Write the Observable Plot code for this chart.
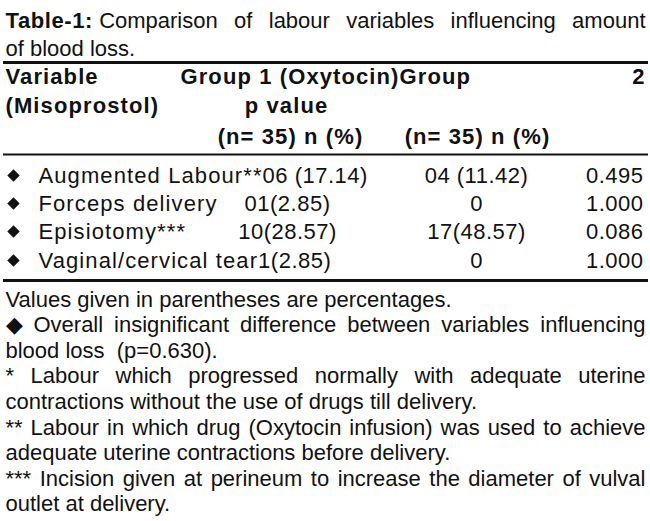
<!DOCTYPE html>
<html>
<head>
<meta charset="utf-8">
<script src="https://cdn.jsdelivr.net/npm/d3@7"></script>
<script src="https://cdn.jsdelivr.net/npm/@observablehq/plot@0.6"></script>
<style>
  html, body { margin: 0; padding: 0; background: #fff; }
  #chart svg { display: block; }
  #chart text { white-space: pre; }
</style>
</head>
<body>
<div id="chart"></div>
<script>
// ---------- data ----------
const titleLabel = "Table-1:";
const titleLines = ["Comparison of labour variables influencing amount", "of blood loss."];
const headerRow1 = ["Variable", "Group 1 (Oxytocin)Group", "2"];
const headerRow2 = ["(Misoprostol)", "p value"];
const headerRow3 = ["(n= 35) n (%)", "(n= 35) n (%)"];
const variables = ["Augmented Labour**", "Forceps delivery", "Episiotomy***", "Vaginal/cervical tear"];
const group1 = ["06 (17.14)", "01(2.85)", "10(28.57)", "1(2.85)"];
const group2 = ["04 (11.42)", "0", "17(48.57)", "0"];
const pValues = ["0.495", "1.000", "0.086", "1.000"];
const footnotes = [
  "Values given in parentheses are percentages.",
  "\u25C6 Overall insignificant difference between variables influencing",
  "blood loss  (p=0.630).",
  "* Labour which progressed normally with adequate uterine",
  "contractions without the use of drugs till delivery.",
  "** Labour in which drug (Oxytocin infusion) was used to achieve",
  "adequate uterine contractions before delivery.",
  "*** Incision given at perineum to increase the diameter of vulval",
  "outlet at delivery."
];
const justifiedFootnotes = [1, 3, 5, 7];

// ---------- layout ----------
const W = 650, H = 521;
const FONT = "'Liberation Sans', Arial, Helvetica, sans-serif";
const L = {
  left: 5, right: 645,
  titleSize: 22, headSize: 22, bodySize: 22, noteSize: 22,
  ls: {title: 0.6, head: 1.1, label: 1.1, value: 0.5},
  titleBase: [27, 55],
  rules: [{y: 62, w: 3}, {y: 154, w: 2}, {y: 280, w: 3}],
  headBase: [83, 112, 143],
  rowBase: [182, 210, 238, 267],
  noteBase0: 306, noteStep: 25.6,
  groupX: 180, pValueHeadX: 286, n1X: 290, n2X: 477,
  diamondX: 13, labelX: 38, g1X: 287, g2X: 476, pX: 643
};

// measure text widths with a hidden svg
const mSvg = d3.select("body").append("svg").attr("width", 0).attr("height", 0)
  .style("position", "absolute").style("visibility", "hidden");
function measure(str, size, weight = "normal", ls = 0) {
  const t = mSvg.append("text").attr("font-family", FONT).attr("font-size", size)
    .attr("font-weight", weight).style("white-space", "pre").style("letter-spacing", ls + "px").text(str);
  const w = t.node().getComputedTextLength();
  t.remove();
  return w;
}
const yTop = (base, size) => base - 0.71 * size; // y for lineAnchor "top"

// build mark tables
const titleBoldW = measure(titleLabel, L.titleSize, "bold", L.ls.title) + measure("a a", L.titleSize) - measure("aa", L.titleSize);
const titleRows = titleLines.map((t, i) => ({
  text: t, x: i === 0 ? L.left + titleBoldW : L.left, y: yTop(L.titleBase[i], L.titleSize)
}));

const headerCells = [
  {text: headerRow1[0], x: L.left, y: yTop(L.headBase[0], L.headSize), anchor: "start"},
  {text: headerRow1[1], x: L.groupX, y: yTop(L.headBase[0], L.headSize), anchor: "start"},
  {text: headerRow1[2], x: L.right, y: yTop(L.headBase[0], L.headSize), anchor: "end"},
  {text: headerRow2[0], x: L.left, y: yTop(L.headBase[1], L.headSize), anchor: "start"},
  {text: headerRow2[1], x: L.pValueHeadX, y: yTop(L.headBase[1], L.headSize), anchor: "middle"},
  {text: headerRow3[0], x: L.n1X, y: yTop(L.headBase[2], L.headSize), anchor: "middle"},
  {text: headerRow3[1], x: L.n2X, y: yTop(L.headBase[2], L.headSize), anchor: "middle"}
];

const rows = variables.map((v, i) => {
  const lw = measure(v, L.bodySize, "normal", L.ls.label);
  const gw = measure(group1[i], L.bodySize, "normal", L.ls.value);
  return {
    variable: v, g1: group1[i], g2: group2[i], p: pValues[i],
    base: L.rowBase[i],
    g1x: Math.max(L.g1X - gw / 2, L.labelX + lw)
  };
});

const notes = footnotes.map((t, i) => ({text: t, y: yTop(L.noteBase0 + i * L.noteStep, L.noteSize)}));

const txt = {fontFamily: FONT, fill: "#111", lineAnchor: "top"};

const chart = Plot.plot({
  width: W, height: H, margin: 0,
  style: {background: "#fff", fontFamily: FONT},
  x: {domain: [0, W], range: [0, W], axis: null},
  y: {domain: [0, H], range: [0, H], axis: null},
  marks: [
    // title
    Plot.text([titleLabel], {x: () => L.left, y: () => yTop(L.titleBase[0], L.titleSize), text: d => d,
      textAnchor: "start", fontWeight: "bold", fontSize: L.titleSize, ...txt}),
    Plot.text(titleRows, {x: "x", y: "y", text: "text", textAnchor: "start", fontSize: L.titleSize, ...txt}),
    // rules
    ...L.rules.map(r => Plot.ruleY([r.y], {x1: () => 3, x2: () => 648, y: d => d, stroke: "#111", strokeWidth: r.w})),
    // header
    Plot.text(headerCells, {x: "x", y: "y", text: "text", textAnchor: "start", fontWeight: "bold",
      fontSize: L.headSize, ...txt}),
    // rows
    Plot.dot(rows, {x: () => L.diamondX, y: d => d.base - 7, symbol: "diamond2", r: 5.6, fill: "#111", stroke: "none"}),
    Plot.text(rows, {x: () => L.labelX, y: d => yTop(d.base, L.bodySize), text: "variable", textAnchor: "start", fontSize: L.bodySize, ...txt}),
    Plot.text(rows, {x: "g1x", y: d => yTop(d.base, L.bodySize), text: "g1", textAnchor: "start", fontSize: L.bodySize, ...txt}),
    Plot.text(rows, {x: () => L.g2X, y: d => yTop(d.base, L.bodySize), text: "g2", textAnchor: "middle", fontSize: L.bodySize, ...txt}),
    Plot.text(rows, {x: () => L.pX, y: d => yTop(d.base, L.bodySize), text: "p", textAnchor: "end", fontSize: L.bodySize, ...txt}),
    // footnotes
    Plot.text(notes, {x: () => L.left, y: "y", text: "text", textAnchor: "start", fontSize: L.noteSize, ...txt})
  ]
});

document.getElementById("chart").appendChild(chart);

const allText = d3.select(chart).selectAll("text");

// per-cell anchors and letter spacing
const headerTexts = new Set([...headerRow1, ...headerRow2, ...headerRow3]);
const valueTexts = new Set([...group1, ...group2, ...pValues]);
allText.each(function () {
  const s = this.textContent;
  const cell = headerCells.find(c => c.text === s && c.anchor !== "start");
  if (cell) this.setAttribute("text-anchor", cell.anchor);
  if (s === titleLabel) this.style.letterSpacing = L.ls.title + "px";
  else if (headerTexts.has(s)) this.style.letterSpacing = L.ls.head + "px";
  else if (variables.includes(s)) this.style.letterSpacing = L.ls.label + "px";
  else if (valueTexts.has(s)) this.style.letterSpacing = L.ls.value + "px";
});

// justify lines by word spacing
const justified = new Set([titleLines[0], ...justifiedFootnotes.map(i => footnotes[i])]);
allText.each(function () {
  const s = this.textContent;
  if (!justified.has(s)) return;
  const natural = this.getComputedTextLength();
  let x0 = L.left;
  const xs = this.getAttribute("x");
  const tr = this.getAttribute("transform");
  if (tr) { const m = tr.match(/translate\(([-\d.]+)/); if (m) x0 = +m[1]; }
  if (xs) x0 += +xs;
  const spaces = (s.match(/ /g) || []).length;
  const ws = (L.right - x0 - natural) / spaces;
  if (ws > 0) this.style.wordSpacing = ws + "px";
});
mSvg.remove();
</script>
</body>
</html>
